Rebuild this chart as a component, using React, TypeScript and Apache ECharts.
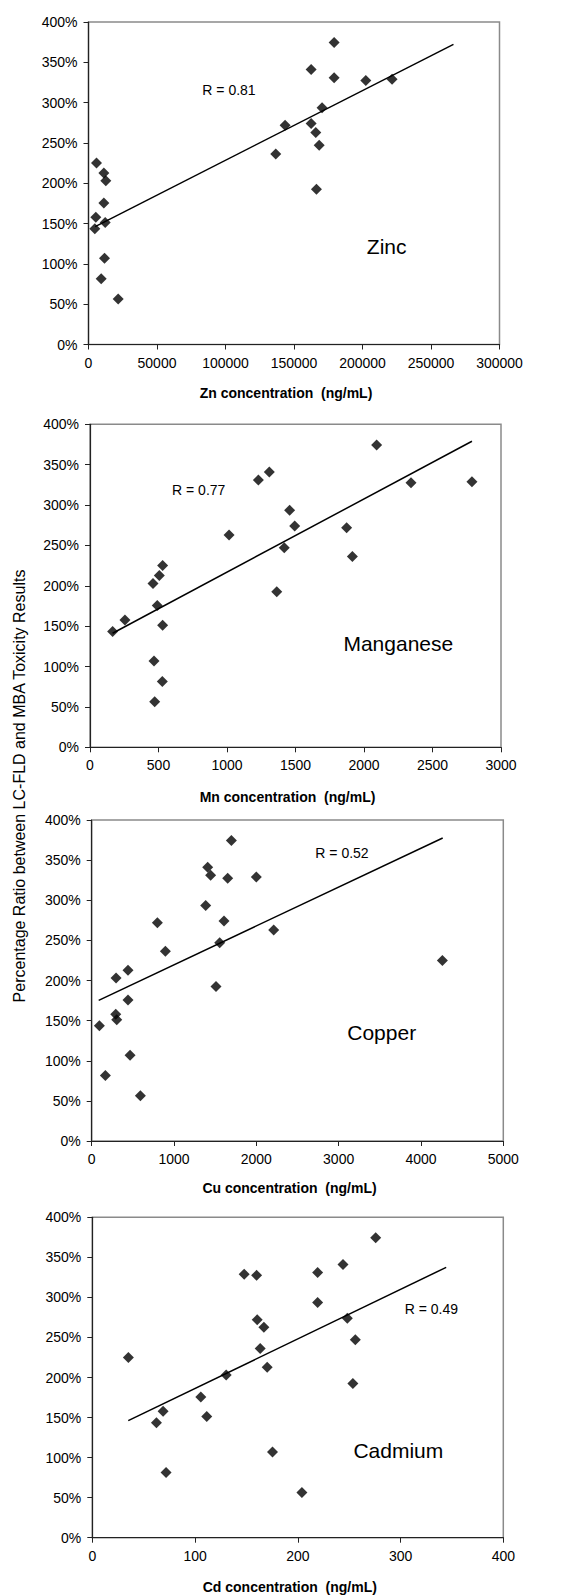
import React, { useEffect, useRef } from "react";
import * as echarts from "echarts";

// Percentage ratio between LC-FLD and MBA toxicity results (same samples in every panel)
const ratio = [374.5, 341, 331, 329, 327.5, 293.5, 274, 272, 262.8, 247, 236.3, 225, 212.8, 203, 192.5, 175.6, 157.8, 151.2, 143.5, 107, 81.5, 56.5];

const znConc = [179300, 162500, 179300, 221600, 202400, 170500, 162500, 143500, 165900, 168400, 136700, 5840, 11200, 12650, 166400, 11200, 5350, 12200, 4620, 11700, 9250, 21650];
const mnConc = [2092, 1309, 1229, 2788, 2343, 1457, 1494, 1873, 1015, 1418, 1915, 530, 506, 460, 1363, 491, 255, 530, 165, 467, 528, 472];
const cuConc = [1697, 1409, 1445, 2000, 1652, 1385, 1607, 798, 2211, 1555, 895, 4260, 441, 296, 1510, 441, 292, 304, 93, 466, 166, 591];
const cdConc = [275.8, 244, 219.3, 147.8, 159.9, 219.3, 248.2, 160.5, 167, 256, 163.4, 35.1, 170.2, 130.3, 253.6, 105.6, 68.9, 111.4, 62.4, 175.4, 71.8, 204];

// Linear trend line end points [x, ratio]
const znTrend = [[4870, 146.3], [266400, 372.3]];
const mnTrend = [[165, 141.2], [2788, 379]];
const cuTrend = [[85, 175.3], [4264, 377.6]];
const cdTrend = [[35, 146.1], [344.4, 337.5]];

const xMax = [300000, 3000, 5000, 400];
const xInterval = [50000, 500, 1000, 100];
const xTitles = ["Zn concentration  (ng/mL)", "Mn concentration  (ng/mL)", "Cu concentration  (ng/mL)", "Cd concentration  (ng/mL)"];
const metalNames = ["Zinc", "Manganese", "Copper", "Cadmium"];
const rLabels = ["R = 0.81", "R = 0.77", "R = 0.52", "R = 0.49"];
const yTitle = "Percentage Ratio between LC-FLD and MBA Toxicity Results";

const FONT = "'Liberation Sans', Arial, sans-serif";

export default function App() {
  const ref = useRef<HTMLDivElement>(null);
  useEffect(() => {
    if (!ref.current) return;
    const chart = echarts.init(ref.current, undefined, { renderer: "svg" });

    const grids = [
      { left: 88.5, top: 22, width: 411, height: 322.5 },
      { left: 90, top: 424.3, width: 411, height: 323 },
      { left: 91.7, top: 820, width: 411.6, height: 321 },
      { left: 92.3, top: 1217.3, width: 411, height: 320.4 },
    ];
    const rPos = [[229, 89.7], [198.7, 490], [342, 852.7], [431.3, 1309]];
    const namePos = [[386.7, 246.7], [398.3, 643.3], [381.7, 1032.7], [398.3, 1450]];
    const titleY = [393.3, 796.7, 1188.3, 1586.7];
    const concs = [znConc, mnConc, cuConc, cdConc];
    const trends = [znTrend, mnTrend, cuTrend, cdTrend];

    const series: any[] = [];
    const graphics: any[] = [];
    concs.forEach((xs, i) => {
      series.push({
        type: "scatter",
        xAxisIndex: i,
        yAxisIndex: i,
        symbol: "diamond",
        symbolSize: 11,
        itemStyle: { color: "#000" },
        data: xs.map((x, k) => [x, ratio[k]]),
        z: 3,
      });
      series.push({
        type: "line",
        xAxisIndex: i,
        yAxisIndex: i,
        showSymbol: false,
        symbol: "none",
        lineStyle: { color: "#000", width: 1.5 },
        data: trends[i],
        z: 2,
      });
      const g = grids[i];
      graphics.push({
        type: "text",
        x: g.left + g.width / 2 - 8,
        y: titleY[i],
        style: { text: xTitles[i], font: `bold 14px ${FONT}`, fill: "#000", align: "center", verticalAlign: "middle" },
      });
      graphics.push({
        type: "text",
        x: rPos[i][0],
        y: rPos[i][1],
        style: { text: rLabels[i], font: `14px ${FONT}`, fill: "#000", align: "center", verticalAlign: "middle" },
      });
      graphics.push({
        type: "text",
        x: namePos[i][0],
        y: namePos[i][1],
        style: { text: metalNames[i], font: `21px ${FONT}`, fill: "#000", align: "center", verticalAlign: "middle" },
      });
    });
    graphics.push({
      type: "text",
      x: 19,
      y: 786,
      rotation: Math.PI / 2,
      style: { text: yTitle, font: `16px ${FONT}`, fill: "#000", align: "center", verticalAlign: "middle" },
    });

    chart.setOption({
      animation: false,
      backgroundColor: "#fff",
      grid: grids.map((g) => ({ ...g, show: true, borderColor: "#8a8a8a", borderWidth: 1.5, backgroundColor: "transparent" })),
      xAxis: xMax.map((mx, i) => ({
        type: "value",
        gridIndex: i,
        min: 0,
        max: mx,
        interval: xInterval[i],
        splitLine: { show: false },
        axisLine: { show: true, onZero: false, lineStyle: { color: "#222", width: 1.2 } },
        axisTick: { show: true, inside: false, length: 5, lineStyle: { color: "#222" } },
        axisLabel: { margin: 11, color: "#000", fontSize: 14, fontFamily: FONT, formatter: (v: number) => String(v) },
      })),
      yAxis: xMax.map((_, i) => ({
        type: "value",
        gridIndex: i,
        min: 0,
        max: 400,
        interval: 50,
        splitLine: { show: false },
        axisLine: { show: true, onZero: false, lineStyle: { color: "#222", width: 1.2 } },
        axisTick: { show: true, inside: false, length: 5, lineStyle: { color: "#222" } },
        axisLabel: { margin: 11, color: "#000", fontSize: 14, fontFamily: FONT, formatter: (v: number) => `${v}%` },
      })),
      series,
      graphic: graphics,
    });
    return () => chart.dispose();
  }, []);
  return <div ref={ref} style={{ position: "absolute", left: 0, top: 0, width: 572, height: 1595 }} />;
}
